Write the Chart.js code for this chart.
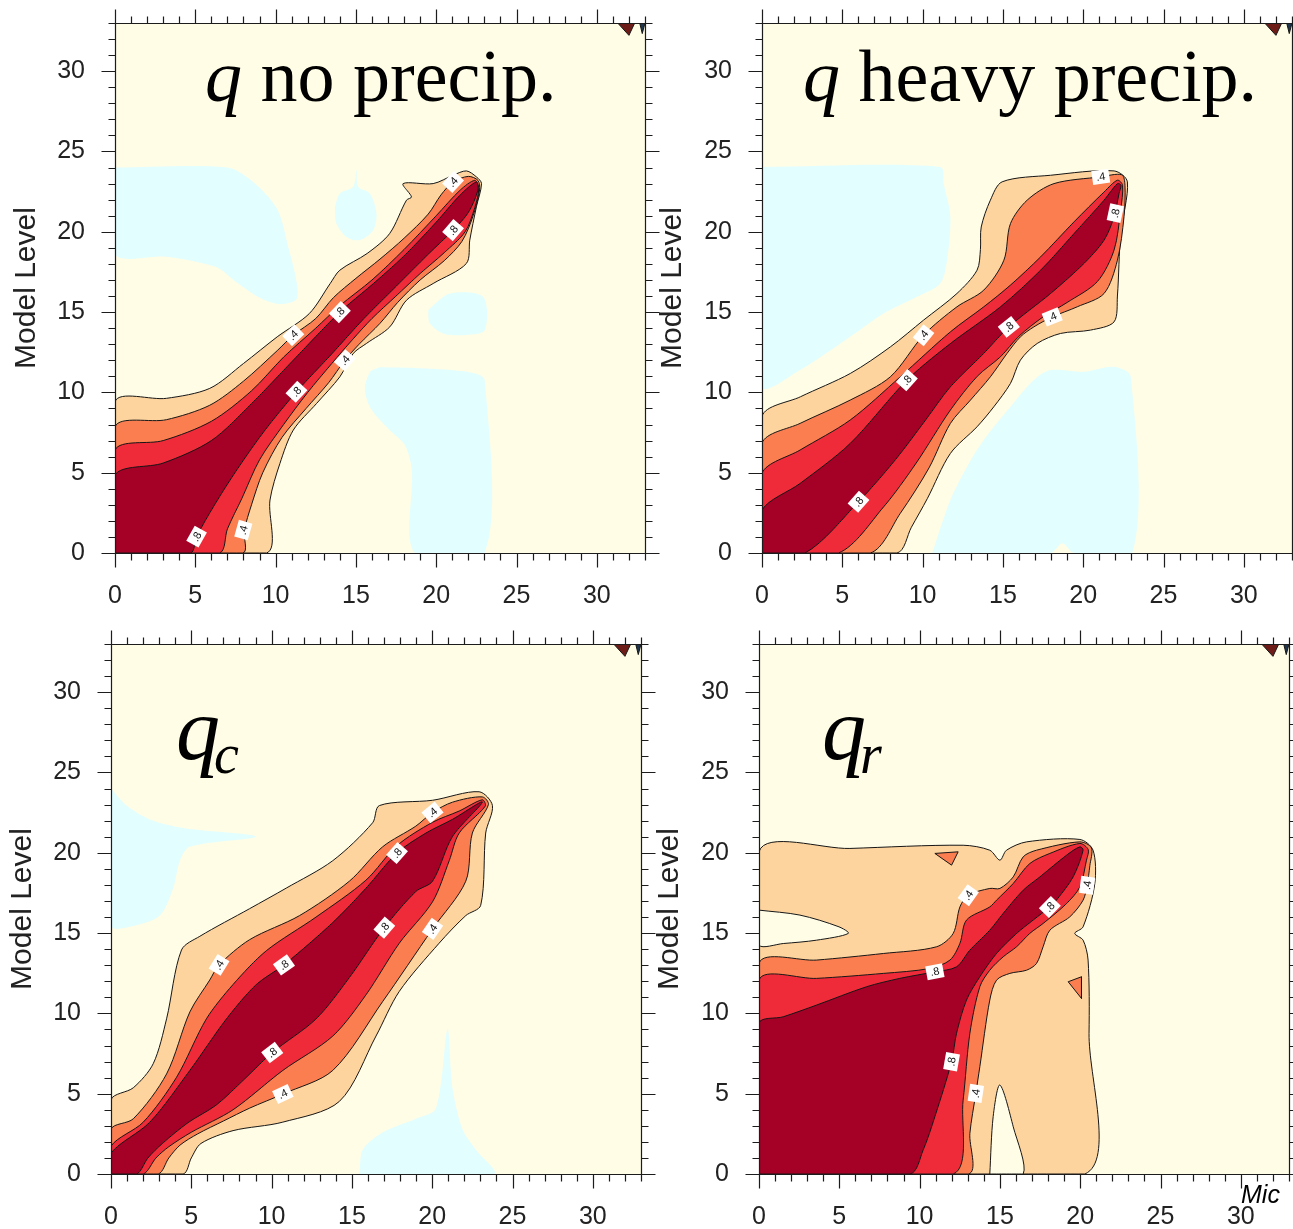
<!DOCTYPE html>
<html>
<head>
<meta charset="utf-8">
<title>Correlation between model levels</title>
<script src="https://cdn.jsdelivr.net/npm/chart.js@4.4.1/dist/chart.umd.min.js"></script>
<style>
  html, body { margin: 0; padding: 0; background: #ffffff; width: 1293px; height: 1229px; overflow: hidden; }
  canvas { position: absolute; }
</style>
</head>
<body>
<canvas id="panelA" width="660" height="615" style="left:0px;top:0px"></canvas>
<canvas id="panelB" width="646" height="615" style="left:647px;top:0px"></canvas>
<canvas id="panelC" width="660" height="614" style="left:0px;top:615px"></canvas>
<canvas id="panelD" width="646" height="614" style="left:647px;top:615px"></canvas>
<script>
// ---- axes: model levels on both axes ----
const levelMin = 0;
const levelMax = 33;
const majorStep = 5;

// ---- contour levels of the correlation ----
const contourLevels = [0.2, 0.4, 0.6, 0.8];

// ---- q, no precipitation: filled regions above each level (closed outlines, [level, level]) ----
const noPrecipL2 = [[0,0],[0,9.42],[3.2,9.63],[5.9,10.25],[8.0,11.8],[10.1,13.46],[12.1,14.91],[13.4,16.78],[14.0,17.61],[15.7,18.65],[17.1,19.89],[18.15,21.97],[18.46,22.17],[17.94,23.0],[19.81,23.0],[21.05,23.52],[21.88,23.79],[22.5,23.42],[22.82,23.0],[22.5,21.55],[22.09,19.48],[21.88,18.03],[19.81,16.78],[18.15,15.74],[17.11,14.08],[15.66,13.05],[14.83,12.42],[14.0,10.97],[12.55,9.31],[11.1,7.65],[10.27,5.58],[9.65,3.3],[9.44,0],[0,0]];
const noPrecipL4 = [[0,0],[0,7.86],[3.2,8.3],[5.9,9.2],[8.0,10.7],[10.1,12.6],[11.1,13.56],[12.5,14.6],[13.6,15.9],[15,17.1],[16.5,18.3],[18,19.6],[19.5,21.1],[20.3,22.3],[21.05,23.1],[22.0,23.45],[22.6,23.2],[22.7,22.6],[22.3,21.0],[21.6,19.4],[20.5,18.2],[19,17.0],[17.6,15.6],[16.5,14.3],[15.2,13.0],[14.31,12.0],[13.3,10.6],[11.9,9.0],[10.4,7.2],[9.2,5.0],[8.5,3.0],[8.05,1.4],[7.96,0],[0,0]];
const noPrecipL6 = [[0,0],[0,6.41],[3,7.0],[6,8.2],[8.5,10.1],[10.5,12.2],[12.5,14.0],[14,15.4],[16,17.0],[18,18.9],[20,21.0],[21.5,22.6],[22.4,23.2],[22.65,22.7],[22.4,21.5],[21.8,20.0],[20.5,18.7],[19,17.4],[17.5,16.0],[16,14.6],[14.8,13.3],[13.5,11.8],[12,10.0],[10.5,8.0],[9.0,5.8],[7.9,3.4],[7.0,1.5],[6.5,0],[0,0]];
const noPrecipL8 = [[0,0],[0,4.85],[3,5.6],[6,7.0],[8.5,9.3],[11,11.9],[14,15.0],[16,16.7],[18,18.5],[20,20.6],[21.5,22.3],[22.5,23.1],[22.6,22.6],[22,21.2],[21.05,20.1],[19.5,18.6],[17.5,16.6],[15.5,14.6],[13.5,12.4],[11.3,10.04],[9.3,7.6],[7.6,5.2],[6.2,3.0],[5.08,1.02],[4.7,0],[0,0]];
const noPrecipNeg = [
  [[0,24],[7.0,24],[8.6,23.1],[10.1,21.4],[10.8,19.0],[11.3,16.9],[11.3,15.8],[10.3,15.5],[9.0,15.9],[7.5,16.9],[6.3,17.8],[3.2,18.45],[0,18.6],[0,24]],
  [[13.69,21.55],[14.0,22.38],[14.83,22.8],[15.04,23.83],[15.14,22.8],[15.87,22.38],[16.28,21.14],[16.08,20.1],[15.24,19.48],[14.41,19.68],[13.79,20.51],[13.69,21.55]],
  [[19.5,15.12],[20.85,16.15],[22.92,15.95],[23.03,13.88],[21.88,13.57],[20.43,13.67],[19.6,14.3],[19.5,15.12]],
  [[16.49,11.57],[18.98,11.51],[22.09,11.26],[23.02,10.77],[23.02,0],[18.67,0],[18.48,5.16],[18.05,6.72],[17.11,7.65],[15.99,8.9],[15.56,10.14],[15.87,11.26],[16.49,11.57]]
];
const noPrecipLabels = [[21.05,23.1,0.4],[21.05,20.1,0.8],[14.0,15.0,0.8],[11.1,13.56,0.4],[14.31,12.0,0.4],[11.3,10.04,0.8],[5.08,1.02,0.8],[7.99,1.43,0.4]];

// ---- q, heavy precipitation ----
const heavyL2 = [[0,0],[0,8.5],[2.4,9.73],[5.5,11.18],[8.0,12.84],[10.06,14.5],[12.14,16.16],[13.39,17.61],[13.6,18.9],[13.65,20.3],[14.22,21.97],[14.95,23.11],[17.97,23.52],[21.92,23.79],[22.75,23.11],[22.33,19.89],[22.13,16.0],[21.92,14.39],[20.46,13.88],[18.59,13.67],[17.14,13.05],[16.09,12.01],[15.47,10.56],[14.43,9.1],[13.39,7.86],[11.73,6.2],[10.3,3.4],[9.3,1.6],[8.4,0],[0,0]];
const heavyL4 = [[0,0],[0,6.83],[2.37,8.07],[5.49,9.52],[7.99,10.97],[10.06,13.56],[12.14,15.33],[13.81,16.37],[15.06,18.23],[15.47,20.51],[16.51,21.97],[18.18,23.0],[21.09,23.42],[22.4,23.55],[22.6,22.9],[22.54,20.93],[22.13,18.23],[21.3,16.16],[19.63,15.33],[18.07,14.7],[16.93,14.08],[16.09,13.46],[15.26,12.43],[14.22,10.97],[12.98,9.52],[11.73,8.07],[10.4,5.3],[8.61,2.47],[6.74,0],[0,0]];
const heavyL6 = [[0,0],[0,4.96],[2.37,6.41],[5.49,8.28],[8.61,10.97],[11.73,13.77],[13.81,15.33],[15.47,16.68],[17.35,18.44],[19.43,20.62],[21.3,22.48],[22.13,23.21],[22.45,22.9],[22.33,21.35],[21.92,18.86],[20.88,16.9],[19.0,15.6],[17.5,14.7],[16.0,13.5],[14.85,12.22],[13.4,11.0],[11.73,8.9],[9.6,5.6],[7.57,2.87],[4.76,0],[0,0]];
const heavyL8 = [[0,0],[0,2.67],[2.37,4.33],[5.49,6.82],[9.02,10.76],[11.73,13.04],[14.85,15.33],[17.35,17.61],[19.43,19.89],[21.3,21.97],[22.13,23.0],[22.35,22.9],[22.23,22.38],[21.92,20.93],[21.3,19.48],[20.05,18.03],[17.97,16.16],[15.37,14.08],[13.81,12.43],[11.73,10.35],[10.2,8.3],[8.3,5.8],[6.01,3.19],[2.68,0],[0,0]];
const heavyNeg = [
  [[0,24.04],[11.1,24.04],[11.31,23.0],[11.73,20.93],[11.52,18.23],[11.1,16.78],[9.65,15.95],[7.57,14.91],[5.49,13.46],[2.37,11.39],[0,10.36],[0,24.04]],
  [[10.6,0],[11.73,3.3],[12.77,5.37],[13.81,7.03],[15.47,9.1],[16.93,10.77],[17.97,11.39],[20.03,11.28],[21.9,11.59],[22.96,10.97],[23.06,0],[19.43,0],[18.7,0.6],[17.97,0],[10.6,0]]
];
const heavyLabels = [[21.09,23.42,0.4],[22.0,21.16,0.8],[10.06,13.56,0.4],[9.02,10.76,0.8],[15.37,14.08,0.8],[18.07,14.7,0.4],[6.01,3.19,0.8]];

// ---- cloud water q_c ----
const cloudL2 = [[0,0],[0,4.62],[1.39,5.37],[2.63,6.87],[3.46,9.66],[4.39,13.95],[5.53,14.8],[8.63,16.52],[10.91,17.8],[13.81,19.51],[16.29,21.87],[16.71,22.94],[20.02,23.27],[22.92,23.8],[23.75,22.94],[23.33,21.23],[23.02,16.73],[22.09,16.09],[20.43,14.37],[17.95,11.37],[16.5,8.59],[14.22,4.52],[10.7,3.23],[7.6,2.7],[5.6,1.9],[5.0,1.0],[4.49,0],[0,0]];
const cloudL4 = [[0,0],[0,2.8],[1.39,3.44],[3.46,6.23],[4.91,10.09],[6.15,12.08],[6.73,13.02],[8.63,14.59],[11.74,16.09],[14.84,18.23],[16.91,20.37],[18.98,21.66],[20.02,22.51],[21.26,23.15],[23.12,23.48],[23.5,23.0],[22.5,21.23],[22.09,18.23],[20.02,15.26],[16.91,10.73],[13.81,6.45],[10.7,4.98],[8.63,4.1],[7.0,3.3],[5.4,2.5],[4.3,1.8],[3.6,1.0],[2.94,0],[0,0]];
const cloudL6 = [[0,0],[0,1.73],[2.01,3.23],[4.08,6.02],[5.94,9.66],[7.6,11.8],[9.67,13.9],[12.77,16.0],[15.88,18.3],[17.81,20.45],[20.02,21.9],[21.68,22.6],[23.12,23.3],[23.3,22.9],[21.68,21.23],[21.06,19.51],[20.02,16.95],[17.95,14.37],[15.88,11.16],[13.81,8.59],[10.7,6.45],[7.6,4.0],[5.0,2.6],[3.6,1.7],[2.8,1.0],[2.01,0],[0,0]];
const cloudL8 = [[0,0],[0,1.3],[2.42,3.23],[4.91,6.45],[7.19,9.66],[9.05,11.8],[10.77,13.02],[13.81,15.66],[15.88,17.8],[17.81,19.99],[19.61,21.23],[21.26,22.08],[23.12,23.16],[21.26,21.01],[20.02,18.23],[18.98,17.59],[17.02,15.34],[14.84,12.23],[12.77,9.66],[10.04,7.56],[8.3,5.9],[6.56,4.3],[4.8,3.2],[3.2,1.9],[2.3,1.0],[1.6,0],[0,0]];
const cloudNeg = [
  [[0,24.0],[0.97,22.94],[2.42,22.08],[4.49,21.55],[9.05,21.01],[4.91,20.37],[4.29,19.51],[3.87,17.8],[3.04,16.09],[1.39,15.44],[0,15.44],[0,24.0]],
  [[15.47,0],[15.68,1.52],[16.91,2.59],[18.98,3.44],[20.23,4.08],[20.95,9.02],[21.26,5.37],[21.88,2.8],[22.71,1.52],[23.85,0],[15.47,0]]
];
const cloudLabels = [[6.73,13.02,0.4],[10.77,13.02,0.8],[10.04,7.56,0.8],[10.7,4.98,0.4],[17.02,15.34,0.8],[20.02,15.26,0.4],[17.81,19.99,0.8],[20.02,22.51,0.4]];

// ---- rain water q_r ----
const rainL2 = [[0,0],[0,20.06],[5.66,20.27],[12.71,20.47],[14.37,20.16],[15.0,19.54],[15.41,20.16],[16.66,20.68],[19.98,20.83],[20.8,20.16],[20.91,18.09],[20.18,15.39],[19.66,14.98],[20.18,14.56],[20.49,13.32],[20.55,8.76],[20.29,0],[0,0]];
const rainL4 = [[0,0],[0,13.11],[3.59,13.32],[7.74,13.73],[11.06,14.15],[12.09,14.98],[12.51,16.63],[13.03,17.36],[14.37,17.78],[15.0,17.78],[15.83,18.5],[16.45,19.75],[17.28,20.16],[19.98,20.68],[20.7,20.3],[20.6,19.2],[20.43,17.98],[20.18,17.05],[19.35,16.01],[18.11,15.18],[17.69,14.15],[17.28,13.11],[16.66,12.69],[15.62,12.49],[14.79,12.07],[14.37,10.83],[13.75,6.68],[13.5,5.02],[13.13,2.53],[13.03,0],[0,0]];
const rainL6 = [[0,0],[0,12.07],[3.59,12.18],[7.74,12.49],[10.64,12.8],[11.89,13.32],[12.51,14.36],[12.92,15.81],[14.37,16.63],[14.79,17.05],[15.83,18.09],[16.86,19.33],[18.11,19.96],[19.98,20.58],[20.5,20.2],[20.39,19.54],[19.98,17.88],[19.15,16.84],[17.69,15.6],[16.86,14.98],[16.04,14.15],[15.2,13.52],[14.37,12.69],[13.75,11.66],[13.13,8.76],[12.71,4.6],[12.09,0],[0,0]];
const rainL8 = [[0,0],[0,9.38],[1.51,9.79],[3.59,10.52],[6.7,11.66],[8.77,12.18],[10.95,12.59],[12.3,12.9],[13.13,13.94],[14.37,15.18],[15.2,16.22],[16.45,17.67],[17.49,18.5],[19.15,19.85],[19.98,20.37],[20.18,20.16],[19.56,18.5],[18.52,17.05],[18.11,16.63],[17.07,15.81],[16.04,14.98],[14.79,13.73],[13.75,12.28],[12.92,10.83],[12.3,8.76],[11.99,6.99],[10.95,3.57],[10.22,1.49],[9.4,0],[0,0]];
const rainHoles = [
  [[0,16.43],[2.55,16.12],[4.98,15.39],[5.56,14.98],[3.59,14.56],[1.51,14.35],[0,14.25],[0,16.43]],
  [[14.37,0],[14.58,3.57],[15.0,5.54],[15.83,2.94],[16.45,0],[14.37,0]]
];
const rainIslands = [
  [[10.95,19.96],[12.4,20.06],[11.99,19.23],[10.95,19.96]],
  [[19.25,11.97],[20.08,12.28],[20.08,10.93],[19.25,11.97]]
];
const rainLabels = [[13.03,17.36,0.4],[10.95,12.59,0.8],[20.43,17.98,0.4],[18.11,16.63,0.8],[11.99,6.99,0.8],[13.5,5.02,0.4]];

// ---- small marks at the top level corner ----
const cornerRed = [[31.3,33],[32.36,33],[32.0,32.23],[31.3,33]];
const cornerBlue = [[32.67,33],[33,33],[32.83,32.34],[32.67,33]];

// ---- styling ----
const contourFills = ['#FDD49E', '#FA7E50', '#EF2B3A', '#A50026'];
const negativeFill = '#E3FEFF';
const baseFill = '#FFFDE6';
const lineColor = '#161616';
const axisColor = '#1c1c1c';
const PLOT = 530;
const SANS = '"Liberation Sans", Arial, Helvetica, sans-serif';
const SERIF = '"Liberation Serif", "Times New Roman", serif';

const panels = [
  { id: 'panelA', left: 115, top: 23, titlePad: 9,
    levels: [noPrecipL2, noPrecipL4, noPrecipL6, noPrecipL8], negative: noPrecipNeg, holes: [], islands: [], labels: noPrecipLabels,
    texts: [{ x: 205, y: 101, parts: [{ text: 'q', font: 'italic 74px ' + SERIF }, { text: ' no precip.', font: '74px ' + SERIF }] }] },
  { id: 'panelB', left: 115, top: 23, titlePad: 8,
    levels: [heavyL2, heavyL4, heavyL6, heavyL8], negative: heavyNeg, holes: [], islands: [], labels: heavyLabels,
    texts: [{ x: 156, y: 101, parts: [{ text: 'q', font: 'italic 74px ' + SERIF }, { text: ' heavy precip.', font: '74px ' + SERIF }] }] },
  { id: 'panelC', left: 111, top: 29, titlePad: 5,
    levels: [cloudL2, cloudL4, cloudL6, cloudL8], negative: cloudNeg, holes: [], islands: [], labels: cloudLabels,
    texts: [{ x: 176, y: 144, parts: [{ text: 'q', font: 'italic 88px ' + SERIF }, { text: 'c', font: 'italic 56px ' + SERIF, dx: -6, dy: 14 }] }] },
  { id: 'panelD', left: 112, top: 29, titlePad: 5,
    levels: [rainL2, rainL4, rainL6, rainL8], negative: [], holes: rainHoles, islands: rainIslands, labels: rainLabels,
    texts: [{ x: 175, y: 144, parts: [{ text: 'q', font: 'italic 88px ' + SERIF }, { text: 'r', font: 'italic 56px ' + SERIF, dx: -6, dy: 14 }] },
            { x: 594, y: 588, parts: [{ text: 'Mic', font: 'italic 25px ' + SANS }] }] }
];
const panelById = {};
panels.forEach(p => { panelById[p.id] = p; });

// one closed outline as a line dataset; its inside is painted by areaFill
function shape(poly, fillColor, order, outlined, tension) {
  return {
    data: poly.map(([x, y]) => ({ x, y })),
    areaColor: fillColor,
    borderColor: outlined ? lineColor : 'rgba(0,0,0,0)',
    borderWidth: outlined ? 1 : 0,
    borderJoinStyle: 'round',
    pointRadius: 0, pointHoverRadius: 0, pointHitRadius: 0,
    tension: tension === undefined ? 0.3 : tension,
    fill: false,
    order: order
  };
}

function buildDatasets(p) {
  const ds = [];
  p.negative.forEach(poly => ds.push(shape(poly, negativeFill, 9, false)));
  ds.push(shape(p.levels[0], contourFills[0], 8, true));
  p.holes.forEach(poly => ds.push(shape(poly, baseFill, 7, true)));
  p.islands.forEach(poly => ds.push(shape(poly, contourFills[1], 7, true, 0)));
  ds.push(shape(p.levels[1], contourFills[1], 6, true));
  ds.push(shape(p.levels[2], contourFills[2], 5, true));
  ds.push(shape(p.levels[3], contourFills[3], 4, true));
  ds.push(shape(cornerRed, '#6E1C18', 3, true, 0));
  ds.push(shape(cornerBlue, '#1E3550', 3, true, 0));
  return ds;
}

// pale base colour of the plotting area
const plotBackground = {
  id: 'plotBackground',
  beforeDatasetsDraw(chart) {
    const { ctx, chartArea: a } = chart;
    ctx.save();
    ctx.fillStyle = baseFill;
    ctx.fillRect(a.left, a.top, a.right - a.left, a.bottom - a.top);
    ctx.restore();
  }
};

// paint the inside of each closed outline before its border is stroked
const areaFill = {
  id: 'areaFill',
  beforeDatasetDraw(chart, args) {
    const ds = chart.data.datasets[args.index];
    const line = args.meta.dataset;
    if (!ds.areaColor || !line || !line.points || !line.points.length) return;
    const { ctx, chartArea: a } = chart;
    if (typeof line.updateControlPoints === 'function') line.updateControlPoints(a, 'x');
    ctx.save();
    ctx.beginPath();
    ctx.rect(a.left, a.top, a.right - a.left, a.bottom - a.top);
    ctx.clip();
    ctx.beginPath();
    line.path(ctx);
    ctx.closePath();
    ctx.fillStyle = ds.areaColor;
    ctx.fill();
    ctx.restore();
  }
};

// direction of the contour at a label, in screen space
function labelAngle(chart, poly, lx, ly) {
  const xs = chart.scales.x, ys = chart.scales.y;
  let best = 0, bd = Infinity;
  for (let i = 0; i < poly.length - 1; i++) {
    const [x1, y1] = poly[i], [x2, y2] = poly[i + 1];
    const dx = x2 - x1, dy = y2 - y1, L = dx * dx + dy * dy;
    if (!L) continue;
    let t = ((lx - x1) * dx + (ly - y1) * dy) / L;
    t = Math.max(0, Math.min(1, t));
    const d = Math.hypot(lx - (x1 + t * dx), ly - (y1 + t * dy));
    if (d < bd) { bd = d; best = i; }
  }
  const [x1, y1] = poly[best], [x2, y2] = poly[best + 1];
  let a = Math.atan2(ys.getPixelForValue(y2) - ys.getPixelForValue(y1), xs.getPixelForValue(x2) - xs.getPixelForValue(x1));
  if (a > Math.PI / 2) a -= Math.PI;
  if (a < -Math.PI / 2) a += Math.PI;
  return a;
}

// white boxed level labels along the contour lines
const contourLabels = {
  id: 'contourLabels',
  afterDatasetsDraw(chart) {
    const p = panelById[chart.canvas.id];
    const { ctx } = chart;
    const xs = chart.scales.x, ys = chart.scales.y;
    ctx.save();
    ctx.font = '11px ' + SANS;
    ctx.textAlign = 'center';
    ctx.textBaseline = 'middle';
    p.labels.forEach(([lx, ly, level]) => {
      const poly = p.levels[contourLevels.indexOf(level)];
      const text = String(level).replace(/^0/, '');
      const ang = labelAngle(chart, poly, lx, ly);
      const w = ctx.measureText(text).width + 8, h = 14;
      ctx.save();
      ctx.translate(xs.getPixelForValue(lx), ys.getPixelForValue(ly));
      ctx.rotate(ang);
      ctx.fillStyle = '#ffffff';
      ctx.fillRect(-w / 2, -h / 2, w, h);
      ctx.fillStyle = '#111111';
      ctx.fillText(text, 0, 0.5);
      ctx.restore();
    });
    ctx.restore();
  }
};

// panel titles and other free text
const panelText = {
  id: 'panelText',
  afterDatasetsDraw(chart) {
    const p = panelById[chart.canvas.id];
    const { ctx } = chart;
    ctx.save();
    ctx.fillStyle = '#000000';
    ctx.textAlign = 'left';
    ctx.textBaseline = 'alphabetic';
    p.texts.forEach(t => {
      let x = t.x;
      t.parts.forEach(part => {
        ctx.font = part.font;
        const px = x + (part.dx || 0);
        ctx.fillText(part.text, px, t.y + (part.dy || 0));
        x = px + ctx.measureText(part.text).width;
      });
    });
    ctx.restore();
  }
};

// frame with outward major and minor tick marks on all four sides
const frameTicks = {
  id: 'frameTicks',
  afterDraw(chart) {
    const { ctx, chartArea: a } = chart;
    const xs = chart.scales.x, ys = chart.scales.y;
    const L = Math.round(a.left) + 0.5, R = Math.round(a.right) + 0.5;
    const T = Math.round(a.top) + 0.5, B = Math.round(a.bottom) + 0.5;
    ctx.save();
    ctx.strokeStyle = axisColor;
    ctx.lineWidth = 1.2;
    ctx.beginPath();
    ctx.rect(L, T, R - L, B - T);
    for (let v = levelMin; v <= levelMax; v++) {
      const len = v % majorStep === 0 ? 14 : 7;
      const px = Math.round(xs.getPixelForValue(v)) + 0.5;
      const py = Math.round(ys.getPixelForValue(v)) + 0.5;
      ctx.moveTo(px, B); ctx.lineTo(px, B + len);
      ctx.moveTo(px, T); ctx.lineTo(px, T - len);
      ctx.moveTo(L, py); ctx.lineTo(L - len, py);
      ctx.moveTo(R, py); ctx.lineTo(R + len, py);
    }
    ctx.stroke();
    ctx.restore();
  }
};

panels.forEach(p => {
  const canvas = document.getElementById(p.id);
  const W = canvas.width, H = canvas.height;
  const tickFont = { family: SANS, size: 25 };
  new Chart(canvas, {
    type: 'line',
    data: { datasets: buildDatasets(p) },
    options: {
      responsive: false,
      animation: false,
      events: [],
      layout: { padding: { top: p.top, right: W - p.left - PLOT, left: 0, bottom: 0 } },
      plugins: { legend: { display: false }, tooltip: { enabled: false } },
      scales: {
        x: {
          type: 'linear', min: levelMin, max: levelMax,
          afterFit: s => { s.height = H - p.top - PLOT; s.paddingLeft = 0; s.paddingRight = 0; },
          ticks: { stepSize: majorStep, includeBounds: false, padding: 28, color: '#222222', font: tickFont, maxRotation: 0, autoSkip: false },
          grid: { display: false, drawTicks: false },
          border: { display: false }
        },
        y: {
          type: 'linear', min: levelMin, max: levelMax,
          afterFit: s => { s.width = p.left; s.paddingTop = 0; s.paddingBottom = 0; },
          ticks: { stepSize: majorStep, includeBounds: false, padding: 30, color: '#222222', font: tickFont, autoSkip: false },
          grid: { display: false, drawTicks: false },
          border: { display: false },
          title: { display: true, text: 'Model Level', color: '#222222', font: { family: SANS, size: 30 }, padding: { top: p.titlePad, bottom: 0 } }
        }
      }
    },
    plugins: [plotBackground, areaFill, contourLabels, panelText, frameTicks]
  });
});
</script>
</body>
</html>
